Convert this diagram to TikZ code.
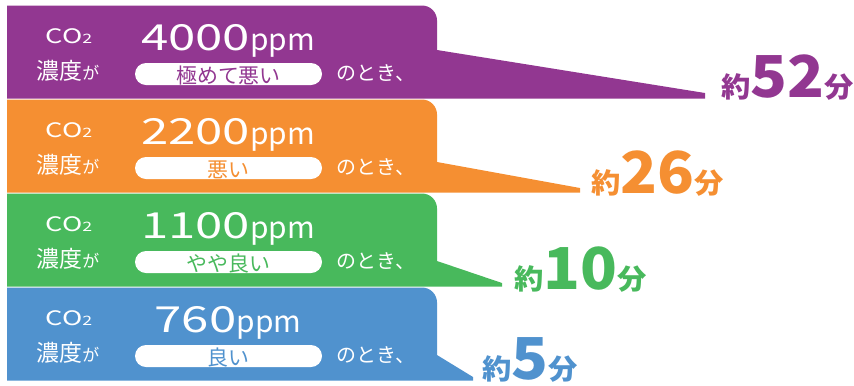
\documentclass[tikz,border=0pt]{standalone}
\usepackage{fontspec}
\setmainfont{Noto Sans CJK JP}
\newfontfamily\widefont[FakeStretch=1.37]{Noto Sans CJK JP}
\newfontfamily\heavyfont[FakeStretch=1.05]{Noto Sans CJK JP}
\definecolor{cpurple}{RGB}{146,55,145}
\definecolor{corange}{RGB}{245,143,50}
\definecolor{cgreen}{RGB}{72,185,92}
\definecolor{cblue}{RGB}{80,146,206}
\tikzset{
every picture/.style={x=1bp,y=-1bp}
}
\tikzset{
  txt/.style={text=white, inner sep=0pt},
  pill/.style={fill=white, rounded corners=11bp, minimum width=187bp,
    minimum height=22bp, inner sep=0pt},
  mins/.style={anchor=base west, inner sep=0pt, font=\heavyfont\bfseries}
}
\begin{document}
\begin{tikzpicture}
    \useasboundingbox (0,0) rectangle (854,385);
    \foreach \col/\yt/\tly/\tx/\ty/\ppm/\lvl/\mx/\my/\mn [count=\i] in {
      cpurple/5.5/50/705/93/4000/極めて悪い/721/97/52,
      corange/99.5/162/580/188/2200/悪い/591/193/26,
      cgreen/193.5/261/502/283/1100/やや良い/514/289/10,
      cblue/287.5/355/473/377/760/良い/482/379.5/5} {
      % band with tail
      \fill[\col] (7,\yt) -- (422,\yt) .. controls (430.3,\yt) and (437,\yt+6.7) .. (437,\yt+15)
        -- (437,\tly) -- (\tx,\ty) -- (\tx,\yt+93) -- (7,\yt+93) -- cycle;
      \node[txt, font={\widefont\fontsize{20}{20}\selectfont}] (co\i) at (69,\yt+30.5) {CO{\fontsize{13}{13}\selectfont 2}};
      \node[txt] (conc\i) at (68,\yt+65) {\fontsize{23}{23}\selectfont 濃度\fontsize{17}{17}\selectfont が};
      \node[txt, anchor=base] (ppm\i) at (228,\yt+44.5) {{\widefont\fontsize{36}{36}\selectfont\ppm}{\fontsize{30}{30}\selectfont ppm}};
      \node[pill] (lvl\i) at (228.5,\yt+68.5) {};
      \node[inner sep=0pt, text=\col, font={\fontsize{21}{21}\selectfont}] (lvltxt\i) at (228.5,\yt+70.2) {\lvl};
      \node[txt, font={\fontsize{20}{20}\selectfont}] (when\i) at (376,\yt+68) {のとき、};
      \node[mins, text=\col] (min\i) at (\mx,\my) {{\fontsize{28}{28}\selectfont 約}{\fontsize{58}{58}\selectfont\mn}{\fontsize{28}{28}\selectfont 分}};
    }
  \end{tikzpicture}
\end{document}
